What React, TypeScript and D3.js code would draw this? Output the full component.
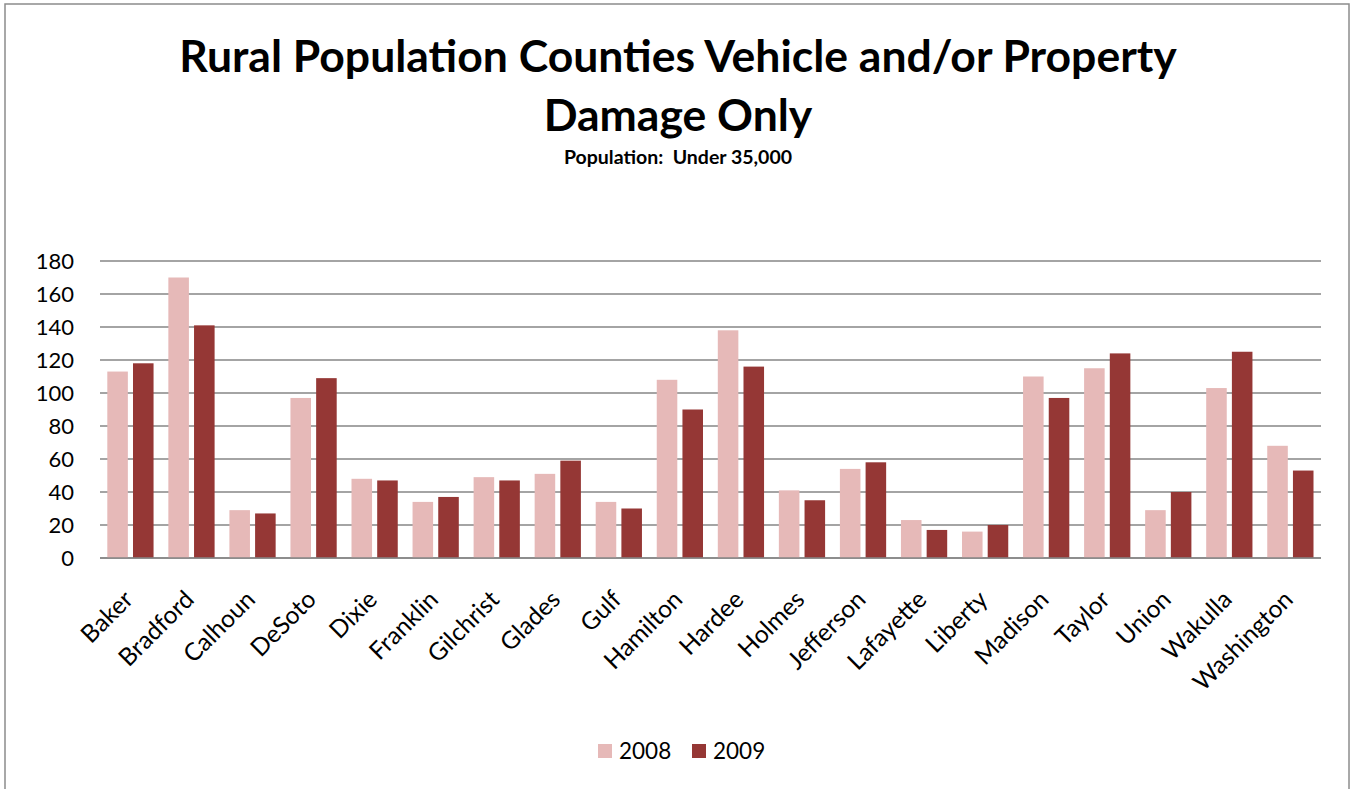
import React from "react";
import * as d3 from "d3";

const categories = ["Baker","Bradford","Calhoun","DeSoto","Dixie","Franklin","Gilchrist","Glades","Gulf","Hamilton","Hardee","Holmes","Jefferson","Lafayette","Liberty","Madison","Taylor","Union","Wakulla","Washington"];
const values2008 = [113,170,29,97,48,34,49,51,34,108,138,41,54,23,16,110,115,29,103,68];
const values2009 = [118,141,27,109,47,37,47,59,30,90,116,35,58,17,20,97,124,40,125,53];
const yTicks = [0,20,40,60,80,100,120,140,160,180];
const seriesNames = ["2008","2009"];
const seriesColors = ["#E6B9B8","#953735"];

const W = 1350, H = 789;
const left = 100, right = 1321, top = 261, bottom = 558;
const FONT = "Lato, 'Open Sans', sans-serif";

export default function App() {
  const x0 = d3.scaleBand<string>().domain(categories).range([left, right]).paddingInner(0).paddingOuter(0);
  const x1 = d3.scaleBand<string>().domain(seriesNames).range([7.3, x0.bandwidth() - 7.5]).paddingInner(0.2);
  const y = d3.scaleLinear().domain([0, 180]).range([bottom, top]);
  const series = [values2008, values2009];

  return (
    <svg width={W} height={H} style={{ position: "absolute", left: 0, top: 0, display: "block" }}>
      <rect x={0} y={0} width={W} height={H} fill="#fff" />
      <rect x={5} y={4} width={1344} height={800} fill="none" stroke="#8c8c8c" strokeWidth={1.5} />
      <text x={678} y={72} textAnchor="middle" fontFamily={FONT} fontWeight="bold" fontSize={44.5} fill="#000">Rural Population Counties Vehicle and/or Property</text>
      <text x={678} y={131} textAnchor="middle" fontFamily={FONT} fontWeight="bold" fontSize={44.5} fill="#000">Damage Only</text>
      <text x={678} y={164} textAnchor="middle" fontFamily={FONT} fontWeight="bold" fontSize={19.5} fill="#000" style={{ whiteSpace: "pre" }}>{"Population:  Under 35,000"}</text>
      {yTicks.map(t => (
        <g key={t}>
          <line x1={left} x2={right} y1={y(t)} y2={y(t)} stroke="#868686" strokeWidth={1.5} />
          <text x={74} y={y(t)} dy="0.36em" textAnchor="end" fontFamily={FONT} fontSize={22} fill="#000">{t}</text>
        </g>
      ))}
      {categories.map((c, i) => (
        <g key={c}>
          {series.map((s, j) => (
            <rect key={j} x={(x0(c) as number) + (x1(seriesNames[j]) as number)} y={y(s[i])} width={x1.bandwidth()} height={y(0) - y(s[i])} fill={seriesColors[j]} />
          ))}
          <text transform={`translate(${(x0(c) as number) + x0.bandwidth() / 2 + 4},${601}) rotate(-45)`} textAnchor="end" fontFamily={FONT} fontSize={24.5} fill="#000">{c}</text>
        </g>
      ))}
      <line x1={left} x2={right} y1={y(0)} y2={y(0)} stroke="#868686" strokeWidth={1.5} />
      {seriesNames.map((n, j) => (
        <g key={n} transform={`translate(${598 + j * 94},744)`}>
          <rect x={0} y={0} width={14} height={14} fill={seriesColors[j]} />
          <text x={21} y={15} fontFamily={FONT} fontSize={22.5} fill="#000">{n}</text>
        </g>
      ))}
    </svg>
  );
}
